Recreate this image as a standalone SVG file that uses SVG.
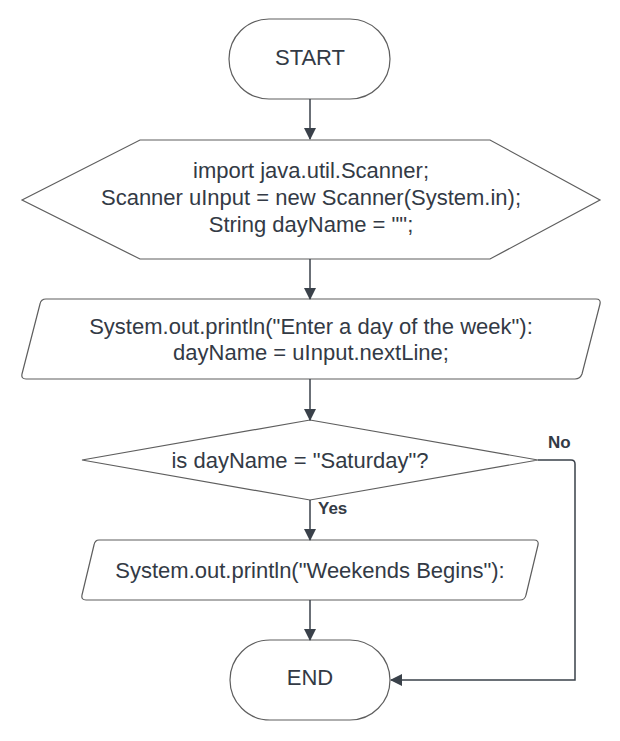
<svg xmlns="http://www.w3.org/2000/svg" width="620" height="741" viewBox="0 0 620 741">
<defs>
<marker id="ah" markerWidth="12" markerHeight="12" viewBox="0 0 12 12" refX="11" refY="6" orient="auto" markerUnits="userSpaceOnUse">
<path d="M0,0 L12,6 L0,12 Z" fill="#3a414a"/>
</marker>
<style>
.shape{fill:#ffffff;stroke:#5e5e5e;stroke-width:1.2}
.t{font-family:"Liberation Sans",Arial,sans-serif;font-size:22px;fill:#333a45;text-anchor:middle}
.lbl{font-family:"Liberation Sans",Arial,sans-serif;font-size:17px;font-weight:bold;fill:#333a45}
.c{fill:none;stroke:#3a414a;stroke-width:1.5}
</style>
</defs>
<rect width="620" height="741" fill="#ffffff"/>
<g id="start">
<rect class="shape" x="229" y="19" width="161" height="80" rx="40" ry="40"/>
<text class="t" x="310" y="65">START</text>
</g>
<g id="init">
<path class="shape" d="M22,200 L140,140 L490,140 L600,200 L490,259 L140,259 Z"/>
<text class="t" x="311" y="178">import java.util.Scanner;</text>
<text class="t" x="311" y="205">Scanner uInput = new Scanner(System.in);</text>
<text class="t" x="311" y="232">String dayName = "";</text>
</g>
<g id="input">
<path class="shape" d="M46,299 L596,299 Q601,299 600,304 L582,374 Q580,379 575,379 L26,379 Q21,379 22,374 L40,304 Q41,299 46,299 Z"/>
<text class="t" x="311" y="334">System.out.println("Enter a day of the week"):</text>
<text class="t" x="311" y="360">dayName = uInput.nextLine;</text>
</g>
<g id="decision">
<path class="shape" d="M310,420 L538,460 L310,500 L82,460 Z"/>
<text class="t" x="300" y="468">is dayName = "Saturday"?</text>
</g>
<g id="output">
<path class="shape" d="M99,540 L534,540 Q539,540 538,545 L526,595 Q525,600 520,600 L86,600 Q81,600 82,595 L94,545 Q95,540 99,540 Z"/>
<text class="t" x="310" y="578">System.out.println("Weekends Begins"):</text>
</g>
<g id="end">
<rect class="shape" x="230" y="640" width="160" height="80" rx="40" ry="40"/>
<text class="t" x="310" y="685">END</text>
</g>
<g id="connectors">
<path class="c" d="M310,99 L310,139" marker-end="url(#ah)"/>
<path class="c" d="M310,259 L310,299" marker-end="url(#ah)"/>
<path class="c" d="M310,379 L310,420" marker-end="url(#ah)"/>
<path class="c" d="M310,500 L310,540" marker-end="url(#ah)"/>
<path class="c" d="M310,600 L310,640" marker-end="url(#ah)"/>
<path class="c" d="M538,460 L571,460 Q575,460 575,464 L575,680 L391,680" marker-end="url(#ah)"/>
<text class="lbl" x="548" y="448">No</text>
<text class="lbl" x="318" y="514">Yes</text>
</g>
</svg>
